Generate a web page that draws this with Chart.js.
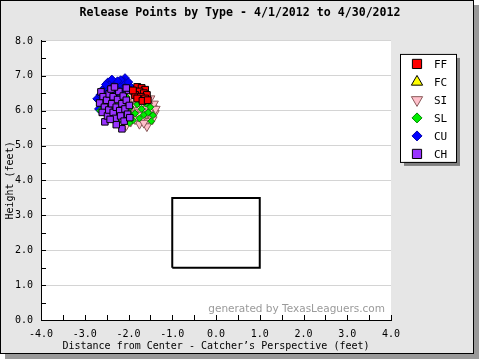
<!DOCTYPE html>
<html><head><meta charset="utf-8">
<script src="https://cdn.jsdelivr.net/npm/chart.js@4.4.0/dist/chart.umd.min.js"></script>
<style>
html,body{margin:0;padding:0;background:#fff;}
#frame{position:absolute;left:0;top:0;width:472px;height:352px;border:1px solid #000;background:#e6e6e6;box-shadow:5px 5px 0 #999;}
#c{position:absolute;left:0;top:0;}
</style></head><body>
<div id="frame"></div>
<canvas id="c" width="480" height="360"></canvas>
<script>
const chartTitle = 'Release Points by Type - 4/1/2012 to 4/30/2012';
const xTitle = 'Distance from Center - Catcher\u2019s Perspective (feet)';
const yTitle = 'Height (feet)';
const watermark = 'generated by TexasLeaguers.com';
const pitchTypes = ['FF', 'FC', 'SI', 'SL', 'CU', 'CH'];
const xTickValues = [-4, -3, -2, -1, 0, 1, 2, 3, 4];
const yTickValues = [0, 1, 2, 3, 4, 5, 6, 7, 8];

const ffPoints = [[-1.80,6.68],[-1.70,6.65],[-1.62,6.60],[-1.75,6.55],[-1.65,6.50],[-1.58,6.45],[-1.85,6.45],[-1.72,6.40],[-1.62,6.35],[-1.80,6.35],[-1.90,6.58],[-1.68,6.28],[-1.56,6.30]];
const fcPoints = [[-1.72,6.10],[-1.88,6.02],[-1.60,6.25]];
const siPoints = [[-1.40,5.93],[-1.45,6.08],[-1.42,6.20],[-1.50,5.80],[-1.52,6.00],[-1.55,6.15],[-1.58,5.70],[-1.60,5.90],[-1.62,6.08],[-1.65,6.25],[-1.68,5.80],[-1.70,5.98],[-1.72,6.15],[-1.75,5.62],[-1.78,5.88],[-1.80,6.05],[-1.82,6.22],[-1.85,5.75],[-1.88,5.95],[-1.90,6.12],[-1.92,6.30],[-1.95,5.68],[-1.98,5.85],[-2.00,6.02],[-2.02,6.20],[-2.05,5.58],[-2.08,5.78],[-2.10,5.95],[-2.12,6.35],[-1.50,6.35],[-1.58,5.55],[-1.45,5.75],[-1.38,6.05],[-1.95,6.45],[-1.65,5.65],[-1.85,6.40]];
const slPoints = [[-2.65,6.00],[-1.44,5.87],[-2.58,6.20],[-2.50,5.90],[-2.42,6.10],[-2.35,5.85],[-2.30,6.25],[-2.22,5.95],[-2.18,6.15],[-2.10,5.82],[-2.05,6.40],[-2.00,5.95],[-1.95,6.10],[-1.90,5.72],[-1.85,5.92],[-1.80,6.18],[-1.75,5.78],[-1.70,6.05],[-1.65,5.88],[-1.60,6.20],[-1.55,5.95],[-1.50,6.10],[-2.25,5.68],[-1.98,5.65],[-2.45,6.45],[-1.48,5.70]];
const cuPoints = [[-2.08,6.94],[-2.12,6.85],[-2.47,6.82],[-2.40,6.78],[-2.30,6.80],[-2.22,6.74],[-2.18,6.88],[-2.35,6.70],[-2.55,6.66],[-2.60,6.58],[-2.48,6.60],[-2.28,6.64],[-2.05,6.72],[-1.95,6.68],[-2.72,6.34],[-2.65,6.45],[-2.52,6.48],[-2.40,6.52],[-2.30,6.46],[-2.15,6.60],[-2.00,6.50],[-1.92,6.40],[-2.62,6.25],[-2.45,6.35],[-2.20,6.38],[-1.95,6.25],[-2.58,6.12],[-2.35,6.15],[-2.10,6.12],[-2.25,6.85],[-2.52,6.75],[-2.38,6.90],[-1.88,6.55],[-2.68,6.05],[-2.00,6.82]];
const chPoints = [[-2.63,6.54],[-2.58,6.40],[-2.66,6.22],[-2.55,6.10],[-2.60,5.95],[-2.54,5.68],[-2.48,5.85],[-2.45,6.02],[-2.50,6.30],[-2.44,6.48],[-2.40,6.62],[-2.35,6.40],[-2.38,6.20],[-2.35,5.95],[-2.30,5.78],[-2.28,6.10],[-2.25,6.32],[-2.22,6.55],[-2.20,6.00],[-2.18,5.85],[-2.15,5.48],[-2.15,6.20],[-2.12,6.42],[-2.10,5.70],[-2.08,6.05],[-2.05,6.30],[-2.02,5.90],[-2.00,6.58],[-1.98,6.15],[-2.28,5.60],[-2.42,5.75],[-2.32,6.68],[-2.05,6.65],[-1.97,5.80]];

const zoneX = [-1, 1, 1, -1, -1];
const zoneY = [1.5, 1.5, 3.5, 3.5, 1.5];

const toXY = pts => pts.map(p => ({x: p[0], y: p[1]}));

const styles = {
  FF: {pointStyle:'rect', radius:4.8, rotation:0, bg:'#ff0000', border:'#000000', order:1},
  FC: {pointStyle:'triangle', radius:5, rotation:0, bg:'#ffff00', border:'#000000', order:6},
  SI: {pointStyle:'triangle', radius:5.2, rotation:180, bg:'#ffc0cb', border:'#8a5a5a', order:4},
  SL: {pointStyle:'rectRot', radius:3.4, rotation:0, bg:'#00ee00', border:'#008800', order:3},
  CU: {pointStyle:'rectRot', radius:4.2, rotation:0, bg:'#0000ff', border:'#0000aa', order:5},
  CH: {pointStyle:'rect', radius:4.6, rotation:0, bg:'#9933ff', border:'#000000', order:2}
};
const legendRadius = {FF: 6.5, FC: 6.5, SI: 6.5, SL: 5, CU: 5, CH: 6.5};
const seriesPoints = {FF: ffPoints, FC: fcPoints, SI: siPoints, SL: slPoints, CU: cuPoints, CH: chPoints};

const datasets = pitchTypes.map(t => {
  const s = styles[t];
  return {
    label: t,
    data: toXY(seriesPoints[t]),
    pointStyle: s.pointStyle,
    pointRadius: s.radius,
    pointHoverRadius: s.radius,
    pointRotation: s.rotation,
    backgroundColor: s.bg,
    borderColor: s.border,
    borderWidth: 1,
    order: s.order,
    isPitch: true
  };
});
datasets.push({
  label: 'zone',
  data: zoneX.map((x, i) => ({x, y: zoneY[i]})),
  showLine: true,
  fill: false,
  pointRadius: 0,
  borderColor: '#000',
  borderWidth: 2,
  order: 10,
  isPitch: false
});

const mono = 'DejaVu Sans Mono';

const decorPlugin = {
  id: 'decor',
  beforeDraw(chart) {
    const {ctx, chartArea: a} = chart;
    ctx.save();
    ctx.fillStyle = '#ffffff';
    ctx.fillRect(a.left, a.top, a.right - a.left, a.bottom - a.top);
    ctx.restore();
  },
  beforeDatasetsDraw(chart) {
    const {ctx, chartArea: a} = chart;
    ctx.save();
    ctx.font = '10.5px "DejaVu Sans"';
    ctx.fillStyle = '#9a9a9a';
    ctx.textAlign = 'right';
    ctx.textBaseline = 'middle';
    ctx.fillText(watermark, a.right - 6, a.bottom - 11);
    ctx.restore();
  },
  afterDraw(chart) {
    const {ctx, chartArea: a, scales} = chart;
    ctx.save();
    ctx.strokeStyle = '#000';
    ctx.lineWidth = 1;
    ctx.beginPath();
    for (let v = -4; v <= 4.001; v += 0.5) {
      const px = Math.round(scales.x.getPixelForValue(v)) + 0.5;
      ctx.moveTo(px, a.bottom);
      ctx.lineTo(px, a.bottom - 5);
    }
    for (let v = 0; v <= 8.001; v += 0.5) {
      const py = Math.round(scales.y.getPixelForValue(v)) + 0.5;
      ctx.moveTo(a.left, py);
      ctx.lineTo(a.left + 5, py);
    }
    ctx.stroke();

    // legend box
    const lx = a.right + 9, ly = a.top + 13, lw = 56, lh = 108;
    ctx.fillStyle = '#808080';
    ctx.fillRect(lx + 4, ly + 4, lw, lh);
    ctx.fillStyle = '#ffffff';
    ctx.fillRect(lx, ly, lw, lh);
    ctx.strokeStyle = '#000';
    ctx.strokeRect(lx + 0.5, ly + 0.5, lw, lh);
    chart.data.datasets.forEach((d, i) => {
      if (!d.isPitch) return;
      const cy = ly + 10 + i * 18;
      const cx = lx + 17;
      ctx.fillStyle = d.backgroundColor;
      ctx.strokeStyle = d.borderColor;
      ctx.lineWidth = 1;
      Chart.helpers.drawPoint(ctx, {pointStyle: d.pointStyle, rotation: d.pointRotation, radius: legendRadius[d.label], borderWidth: 1}, cx, cy);
      ctx.fillStyle = '#000';
      ctx.font = '11px "' + mono + '"';
      ctx.textAlign = 'left';
      ctx.textBaseline = 'middle';
      ctx.fillText(d.label, lx + 34, cy + 1);
    });
    ctx.restore();
  }
};

new Chart(document.getElementById('c'), {
  type: 'scatter',
  data: {datasets},
  plugins: [decorPlugin],
  options: {
    responsive: false,
    animation: false,
    devicePixelRatio: 1,
    layout: {padding: 0},
    plugins: {
      legend: {display: false},
      tooltip: {enabled: false},
      title: {
        display: true,
        text: chartTitle,
        color: '#000',
        align: 'center',
        font: {family: mono, size: 11.6, weight: 'bold'},
        padding: {top: 6, bottom: 21}
      }
    },
    scales: {
      x: {
        type: 'linear',
        min: -4, max: 4,
        afterBuildTicks: s => { s.ticks = xTickValues.map(v => ({value: v})); },
        afterFit: s => { s.height = 40; },
        ticks: {
          callback: v => Number(v).toFixed(1),
          color: '#000',
          font: {family: mono, size: 10},
          padding: 8,
          maxRotation: 0,
          autoSkip: false
        },
        grid: {display: false, drawTicks: false},
        border: {display: true, color: '#000', width: 1},
        title: {
          display: true, text: xTitle, color: '#000',
          font: {family: mono, size: 10},
          padding: {top: 2, bottom: 8}
        }
      },
      y: {
        type: 'linear',
        min: 0, max: 8,
        afterBuildTicks: s => { s.ticks = yTickValues.map(v => ({value: v})); },
        afterFit: s => { s.width = 41; },
        ticks: {
          callback: v => Number(v).toFixed(1),
          color: '#000',
          font: {family: mono, size: 10},
          padding: 8,
          autoSkip: false
        },
        grid: {color: '#d4d4d4', drawTicks: false},
        border: {display: true, color: '#000', width: 1},
        title: {
          display: true, text: yTitle, color: '#000',
          font: {family: mono, size: 10},
          padding: {top: 4, bottom: 0}
        }
      },
      legendSpace: {
        type: 'linear',
        position: 'right',
        display: true,
        min: 0, max: 1,
        afterFit: s => { s.width = 89; },
        ticks: {display: false},
        grid: {display: false, drawTicks: false},
        border: {display: false},
        title: {display: false}
      }
    }
  }
});
</script>
</body></html>
